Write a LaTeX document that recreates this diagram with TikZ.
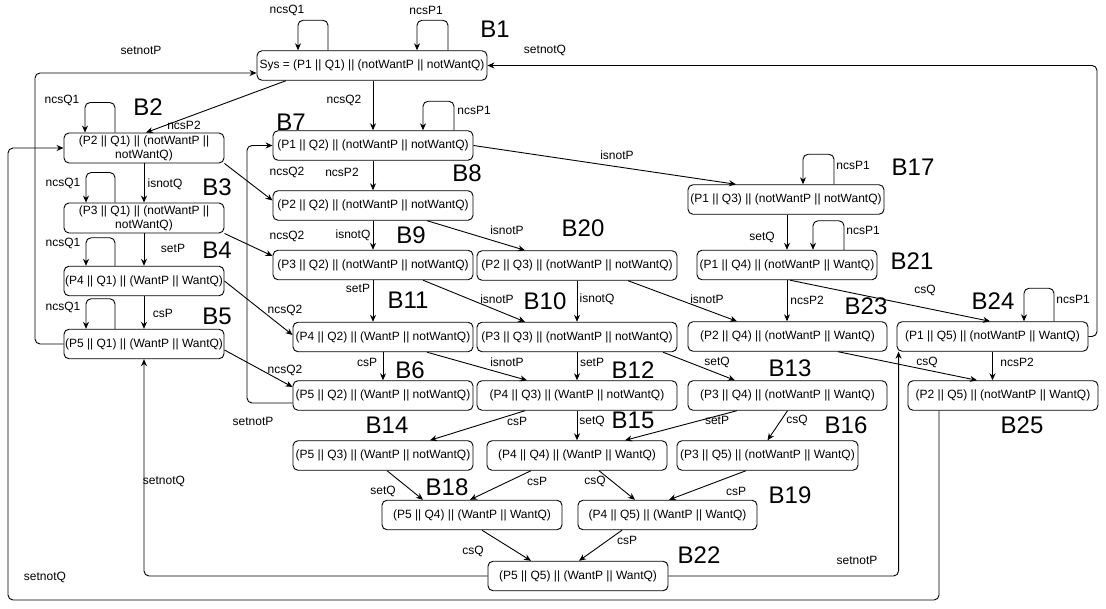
\documentclass[tikz,border=0pt]{standalone}
\usepackage{fontspec}
\setmainfont{Liberation Sans}
\usetikzlibrary{arrows.meta}
\tikzset{
 st/.style={draw, rounded corners=5pt, minimum height=29.5pt, inner sep=0pt, align=center, font=\fontsize{12}{14}\selectfont, line width=0.9pt},
 lb/.style={inner sep=0pt, font=\fontsize{12}{14}\selectfont},
 bl/.style={inner sep=0pt, font=\fontsize{24}{28}\selectfont},
 arr/.style={-{Stealth[length=7pt,width=6pt]}, line width=0.9pt, rounded corners=5pt},
}
\newcommand\lab[3]{\node[lb] (#1) at (#2) {#3};}
\newcommand\blab[3]{\node[bl] (#1) at (#2) {#3};}
\begin{document}
\begin{tikzpicture}[x=1pt,y=-1pt]
\useasboundingbox (0,0) rectangle (1106,609);
% boxes
\node[st,minimum width=230pt] (b1) at (372,65.5) {Sys = (P1 || Q1) || (notWantP || notWantQ)};
\node[st,minimum width=160pt,minimum height=30pt] (b2) at (144,148) {(P2 || Q1) || (notWantP ||\\notWantQ)};
\node[st,minimum width=160pt,minimum height=30pt] (b3) at (144,218) {(P3 || Q1) || (notWantP ||\\notWantQ)};
\node[st,minimum width=160pt] (b4) at (144,281) {(P4 || Q1) || (WantP || WantQ)};
\node[st,minimum width=160pt] (b5) at (144,344) {(P5 || Q1) || (WantP || WantQ)};
\node[st,minimum width=200pt] (b7) at (373,145.5) {(P1 || Q2) || (notWantP || notWantQ)};
\node[st,minimum width=200pt] (b8) at (373,205.5) {(P2 || Q2) || (notWantP || notWantQ)};
\node[st,minimum width=200pt] (b9) at (373,265) {(P3 || Q2) || (notWantP || notWantQ)};
\node[st,minimum width=200pt] (b20) at (577,265.5) {(P2 || Q3) || (notWantP || notWantQ)};
\node[st,minimum width=196pt] (b17) at (786,199.5) {(P1 || Q3) || (notWantP || notWantQ)};
\node[st,minimum width=180pt] (b21) at (787,265) {(P1 || Q4) || (notWantP || WantQ)};
\node[st,minimum width=180pt] (b11) at (383,337) {(P4 || Q2) || (WantP || notWantQ)};
\node[st,minimum width=200pt] (b10) at (577,337) {(P3 || Q3) || (notWantP || notWantQ)};
\node[st,minimum width=199pt] (b23) at (787.5,336.5) {(P2 || Q4) || (notWantP || WantQ)};
\node[st,minimum width=191pt] (b24) at (992.5,336.5) {(P1 || Q5) || (notWantP || WantQ)};
\node[st,minimum width=180pt] (b6) at (383,395.5) {(P5 || Q2) || (WantP || notWantQ)};
\node[st,minimum width=200pt] (b12) at (577,395.5) {(P4 || Q3) || (WantP || notWantQ)};
\node[st,minimum width=199pt] (b13) at (787.5,395.5) {(P3 || Q4) || (notWantP || WantQ)};
\node[st,minimum width=190pt] (b25) at (1003,395.5) {(P2 || Q5) || (notWantP || WantQ)};
\node[st,minimum width=180pt] (b14) at (383,455.5) {(P5 || Q3) || (WantP || notWantQ)};
\node[st,minimum width=180pt] (b15) at (577,455.5) {(P4 || Q4) || (WantP || WantQ)};
\node[st,minimum width=181pt] (b16) at (767.5,455.5) {(P3 || Q5) || (notWantP || WantQ)};
\node[st,minimum width=180pt] (b18) at (472,515) {(P5 || Q4) || (WantP || WantQ)};
\node[st,minimum width=179pt] (b19) at (667.5,515) {(P4 || Q5) || (WantP || WantQ)};
\node[st,minimum width=180pt] (b22) at (578,576) {(P5 || Q5) || (WantP || WantQ)};
% self loops
\draw[arr] ([xshift=-44pt]b1.north) -- ++(0,-30) -| ([xshift=-74pt]b1.north);
\draw[arr] ([xshift=76pt]b1.north) -- ++(0,-30) -| ([xshift=45pt]b1.north);
\draw[arr] ([xshift=81pt]b7.north) -- ++(0,-29) -| ([xshift=50pt]b7.north);
\draw[arr] ([xshift=-29pt]b2.north) -- ++(0,-30) -| ([xshift=-59pt]b2.north);
\draw[arr] ([xshift=-29pt]b3.north) -- ++(0,-30) -| ([xshift=-58pt]b3.north);
\draw[arr] ([xshift=-29pt]b4.north) -- ++(0,-28) -| ([xshift=-58pt]b4.north);
\draw[arr] ([xshift=-29pt]b5.north) -- ++(0,-30) -| ([xshift=-58pt]b5.north);
\draw[arr] ([xshift=48pt]b17.north) -- ++(0,-30) -| ([xshift=17pt]b17.north);
\draw[arr] ([xshift=57pt]b21.north) -- ++(0,-29) -| ([xshift=26pt]b21.north);
\draw[arr] ([xshift=61.5pt]b24.north) -- ++(0,-33) -| ([xshift=31.5pt]b24.north);
% long orthogonal edges
\draw[arr] (b5.west) -| (35,73) -- ([yshift=-7.5pt]b1.west);
\draw[arr] ([xshift=-64pt]b25.south) -- (939,600) -- (8,600) |- (b2.west);
\draw[arr] ([yshift=-7.5pt]b6.west) -| (247,145.5) -- (b7.west);
\draw[arr] (b22.west) -| (b5.south);
\draw[arr] (b22.east) -| ([xshift=2pt]b24.south west);
\draw[arr] (b24.east) -- (1097,336.5) |- (b1.east);
% vertical edges
\draw[arr] (b2.south) -- (b3.north);
\draw[arr] (b3.south) -- (b4.north);
\draw[arr] (b4.south) -- (b5.north);
\draw[arr] (b7.north |- b1.south) -- (b7.north);
\draw[arr] (b7.south) -- (b8.north);
\draw[arr] (b8.south) -- (b9.north);
\draw[arr] (b9.south) -- (b9.south |- b11.north);
\draw[arr] (b11.south) -- (b6.north);
\draw[arr] (b20.south) -- (b10.north);
\draw[arr] (b10.south) -- (b12.north);
\draw[arr] (b12.south) -- (b15.north);
\draw[arr] (b21.north |- b17.south) -- (b21.north);
\draw[arr] (b21.south) -- (b21.south |- b23.north);
\draw[arr] (b24.south) -- (b24.south |- b25.north);
% diagonal edges
\draw[arr] ([xshift=-86pt]b1.south) -- ([xshift=2pt]b2.north);
\draw[arr] (b2.south east) -- ([yshift=5pt]b8.west);
\draw[arr] (b3.south east) -- ([yshift=9pt]b9.west);
\draw[arr] (b4.east) -- ([yshift=2pt]b11.west);
\draw[arr] ([yshift=-6pt]b5.east) -- ([yshift=8.5pt]b6.west);
\draw[arr] (b7.east) -- ([xshift=-50pt]b17.north);
\draw[arr] ([xshift=54pt]b8.south) -- ([xshift=-52pt]b20.north);
\draw[arr] ([xshift=50pt]b9.south) -- ([xshift=-52pt]b10.north);
\draw[arr] ([xshift=51pt]b20.south) -- ([xshift=-50.5pt]b23.north);
\draw[arr] ([xshift=3pt]b21.south) -- ([xshift=-2.5pt]b24.north);
\draw[arr] ([xshift=50.5pt]b23.south) -- ([xshift=-26pt]b25.north);
\draw[arr] ([xshift=44pt]b11.south) -- ([xshift=-50pt]b12.north);
\draw[arr] ([xshift=86pt]b10.south) -- ([xshift=-52.5pt]b13.north);
\draw[arr] ([xshift=-52pt]b12.south) -- ([xshift=47pt]b14.north);
\draw[arr] ([xshift=-50.5pt]b13.south) -- ([xshift=48pt]b15.north);
\draw[arr] (b13.south) -- (b16.north);
\draw[arr] ([xshift=4pt]b14.south) -- ([xshift=-49pt]b18.north);
\draw[arr] ([xshift=-46pt]b15.south) -- ([xshift=-2pt]b18.north);
\draw[arr] ([xshift=22pt]b15.south) -- ([xshift=-32.5pt]b19.north);
\draw[arr] ([xshift=-21.5pt]b16.south) -- ([xshift=1.5pt]b19.north);
\draw[arr] ([xshift=10pt]b18.south) -- ([xshift=-47pt]b22.north);
\draw[arr] ([xshift=-45.5pt]b19.south) -- ([xshift=1pt]b22.north);
% big labels
\blab{t1}{495,29}{B1}
\blab{t2}{148,107}{B2}
\blab{t3}{217,187}{B3}
\blab{t4}{217,250}{B4}
\blab{t5}{217,316}{B5}
\blab{t6}{410,370}{B6}
\blab{t7}{291,122}{B7}
\blab{t8}{467,173}{B8}
\blab{t9}{411,235}{B9}
\blab{t10}{545,301}{B10}
\blab{t11}{408,300}{B11}
\blab{t12}{633,370}{B12}
\blab{t13}{790,368}{B13}
\blab{t14}{387,425}{B14}
\blab{t15}{633,420}{B15}
\blab{t16}{846,425}{B16}
\blab{t17}{913,167}{B17}
\blab{t18}{447,487}{B18}
\blab{t19}{790,495}{B19}
\blab{t20}{583,228}{B20}
\blab{t21}{912,261}{B21}
\blab{t22}{699,555}{B22}
\blab{t23}{866,306}{B23}
\blab{t24}{993,301}{B24}
\blab{t25}{1022,425}{B25}
% edge labels
\lab{l1}{287,10}{ncsQ1}
\lab{l2}{426,10}{ncsP1}
\lab{l3}{141,50}{setnotP}
\lab{l4}{545,50}{setnotQ}
\lab{l5}{184,125}{ncsP2}
\lab{l6}{344,100}{ncsQ2}
\lab{l7}{62,100}{ncsQ1}
\lab{l8}{474,110}{ncsP1}
\lab{l9}{165,184}{isnotQ}
\lab{l10}{63,183}{ncsQ1}
\lab{l11}{173,248}{setP}
\lab{l12}{63,243}{ncsQ1}
\lab{l13}{163,313}{csP}
\lab{l14}{63,307}{ncsQ1}
\lab{l15}{287,172}{ncsQ2}
\lab{l16}{342,172}{ncsP2}
\lab{l17}{287,236}{ncsQ2}
\lab{l18}{353,235}{isnotQ}
\lab{l19}{507,230}{isnotP}
\lab{l20}{617,155}{isnotP}
\lab{l21}{853,165}{ncsP1}
\lab{l22}{762,237}{setQ}
\lab{l23}{863,230}{ncsP1}
\lab{l24}{807,300}{ncsP2}
\lab{l25}{925,290}{csQ}
\lab{l26}{1073,299}{ncsP1}
\lab{l27}{1017,362}{ncsP2}
\lab{l28}{927,362}{csQ}
\lab{l29}{358,288}{setP}
\lab{l30}{497,299}{isnotP}
\lab{l31}{597,299}{isnotQ}
\lab{l32}{707,299}{isnotP}
\lab{l33}{285,310}{ncsQ2}
\lab{l34}{285,370}{ncsQ2}
\lab{l35}{367,362}{csP}
\lab{l36}{507,362}{isnotP}
\lab{l37}{592,362}{setP}
\lab{l38}{717,362}{setQ}
\lab{l39}{517,421}{csP}
\lab{l40}{592,421}{setQ}
\lab{l41}{717,420}{setP}
\lab{l42}{797,420}{csQ}
\lab{l43}{253,421}{setnotP}
\lab{l44}{164,481}{setnotQ}
\lab{l45}{383,491}{setQ}
\lab{l46}{537,481}{csP}
\lab{l47}{595,481}{csQ}
\lab{l48}{736,491}{csP}
\lab{l49}{473,551}{csQ}
\lab{l50}{627,540}{csP}
\lab{l51}{857,560}{setnotP}
\lab{l52}{45,577}{setnotQ}
\end{tikzpicture}
\end{document}
